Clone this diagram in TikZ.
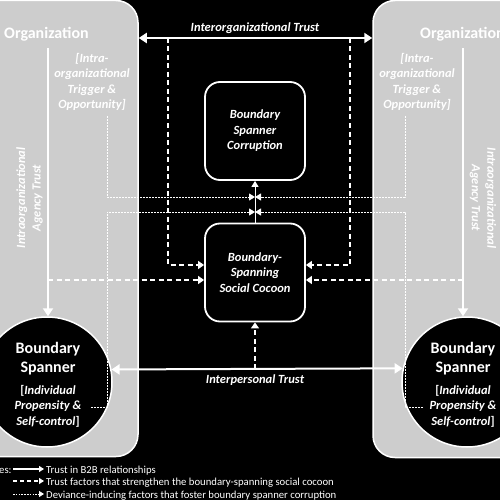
\documentclass[tikz,border=0pt]{standalone}
\usepackage{fontspec}
\setmainfont{Carlito}
\usetikzlibrary{arrows.meta}
\definecolor{orggray}{RGB}{205,205,205}
\begin{document}
\begin{tikzpicture}[x=1pt,y=-1pt,
  lbl/.style={text=white,font=\bfseries\itshape\fontsize{12.5}{15.5}\selectfont,align=center,inner sep=0pt},
  orgtxt/.style={text=white,font=\bfseries\fontsize{16}{19}\selectfont,inner sep=0pt},
  bstitle/.style={text=white,font=\bfseries\fontsize{16}{19.5}\selectfont,align=center,inner sep=0pt},
  bssub/.style={text=white,font=\bfseries\fontsize{12.5}{15.5}\selectfont,align=center,inner sep=0pt},
  legtxt/.style={text=white,font=\fontsize{10.7}{12.5}\selectfont,inner sep=0pt},
  orgbox/.style={draw=white,line width=1.5pt,fill=orggray,rounded corners=22pt,inner sep=0pt},
  boxnode/.style={draw=white,line width=1.8pt,fill=black,rounded corners=15pt,minimum width=100pt,minimum height=98pt,inner sep=0pt,lbl},
  bs/.style={circle,draw=white,line width=1.5pt,fill=black,minimum size=130pt,inner sep=0pt},
  trust/.style={draw=white,line width=2pt,-{Triangle[length=8pt,width=10pt]}},
  dashln/.style={draw=white,line width=1.3pt,dash pattern=on 5pt off 3.5pt,-{Triangle[length=6pt,width=8pt]}},
  dotln/.style={draw=white,line width=0.9pt,dash pattern=on 1.6pt off 1.4pt,-{Triangle[length=6pt,width=7pt]}},
  thinarr/.style={draw=white,line width=1pt,-{Triangle[length=6pt,width=7pt]}},
  legsolid/.style={draw=white,line width=1.1pt,-{Triangle[length=5pt,width=6pt]}},
  legdash/.style={draw=white,line width=1.1pt,dash pattern=on 4pt off 3pt,-{Triangle[length=5pt,width=6pt]}},
  legdot/.style={draw=white,line width=0.9pt,dash pattern=on 1.6pt off 1.2pt,-{Triangle[length=5pt,width=6pt]}}
]
\fill[black] (0,0) rectangle (500,500);
\useasboundingbox (0,0) rectangle (500,500);

% organization boxes
\node[orgbox,minimum width=170pt,minimum height=456pt] (boxL) at (53,228.5) {};
\node[orgbox,minimum width=170pt,minimum height=457pt] (boxR) at (458,229) {};

\node[orgtxt,anchor=base west] (orgL) at (4,39) {Organization};
\node[orgtxt,anchor=base west] (orgR) at (420,39) {Organization};

\node[lbl,anchor=north] (trigL) at (92,53) {[Intra-\\organizational\\Trigger \&\\Opportunity]};
\node[lbl,anchor=north] (trigR) at (417,53) {[Intra-\\organizational\\Trigger \&\\Opportunity]};

\node[lbl,rotate=90] (agL) at (29.5,198) {Intraorganizational\\Agency Trust};
\node[lbl,rotate=-90] (agR) at (483,198) {Intraorganizational\\Agency Trust};

% central boxes
\node[boxnode] (corr) at (255,131) {Boundary\\Spanner\\Corruption};
\node[boxnode] (coc) at (255,272.5) {Boundary-\\Spanning\\Social Cocoon};

% boundary spanner circles
\node[bs] (bsL) at (47,382) {};
\node[bs] (bsR) at (467,382) {};
\node[bstitle,anchor=north] (bsLt) at (48,342) {Boundary\\Spanner};
\node[bssub,anchor=north] (bsLs) at (48,385) {[\textit{Individual}\\\textit{Propensity \&}\\\textit{Self-control}]};
\node[bstitle,anchor=north] (bsRt) at (463,342) {Boundary\\Spanner};
\node[bssub,anchor=north] (bsRs) at (463,385) {[\textit{Individual}\\\textit{Propensity \&}\\\textit{Self-control}]};

% trust labels
\node[lbl,anchor=base] (ioLbl) at (255,32) {Interorganizational Trust};
\node[lbl,anchor=base] (ipLbl) at (255,383) {Interpersonal Trust};

% coordinates
\coordinate (ioY) at (0,38);
\coordinate (vL) at (48,48);
\coordinate (vR) at (463,48);
\coordinate (dL) at (168,38);
\coordinate (dR) at (350,38);
\coordinate (y265) at (0,265);
\coordinate (y280) at (0,280);
\coordinate (hL) at (48,280);
\coordinate (hR) at (463,280);
\coordinate (ipB) at (255,369);
\coordinate (tL) at (107,116);
\coordinate (tR) at (405,116);
\coordinate (pL) at (91,407);
\coordinate (pR) at (423,407);
\coordinate (cA) at (255,197);
\coordinate (cB) at (255,212);

% solid trust arrows
\draw[trust,{Triangle[length=8pt,width=10pt]}-{Triangle[length=8pt,width=10pt]}] (boxL.east |- ioY) -- (boxR.west |- ioY);
\draw[trust,{Triangle[length=8pt,width=10pt]}-{Triangle[length=8pt,width=10pt]}] (bsL.11.5) -- (bsR.168.5);
\draw[trust] (vL) -- (vL |- bsL.north);
\draw[trust] (vR) -- (vR |- bsR.north);

% dashed (cocoon) arrows
\draw[dashln] (dL) |- (coc.west |- y265);
\draw[dashln] (dR) |- (coc.east |- y265);
\draw[dashln] (hL) -- (coc.west |- hL);
\draw[dashln] (hR) -- (coc.east |- hR);
\draw[dashln] (ipB) -- (coc.south);

% dotted (deviance) arrows
\draw[dotln] (tL) |- (cA);
\draw[dotln] (tR) |- (cA);
\draw[dotln] (pL) -| (107,300) |- (cB);
\draw[dotln] (pR) -| (405,300) |- (cB);
\draw[thinarr] (coc.north) -- (corr.south);

% legend
\node[legtxt,anchor=base west] (lg0) at (-1,473) {es:};
\node[legtxt,anchor=base west] (lg1) at (46,473) {Trust in B2B relationships};
\node[legtxt,anchor=base west] (lg2) at (46,485.5) {Trust factors that strengthen the boundary-spanning social cocoon};
\node[legtxt,anchor=base west] (lg3) at (46,498) {Deviance-inducing factors that foster boundary spanner corruption};
\coordinate (l1) at (13,469);
\coordinate (l2) at (13,481);
\coordinate (l3) at (13,494);
\draw[legsolid] (l1) -- ([xshift=-2pt]lg1.west |- l1);
\draw[legdash] (l2) -- ([xshift=-2pt]lg2.west |- l2);
\draw[legdot] (l3) -- ([xshift=-2pt]lg3.west |- l3);
\end{tikzpicture}
\end{document}
